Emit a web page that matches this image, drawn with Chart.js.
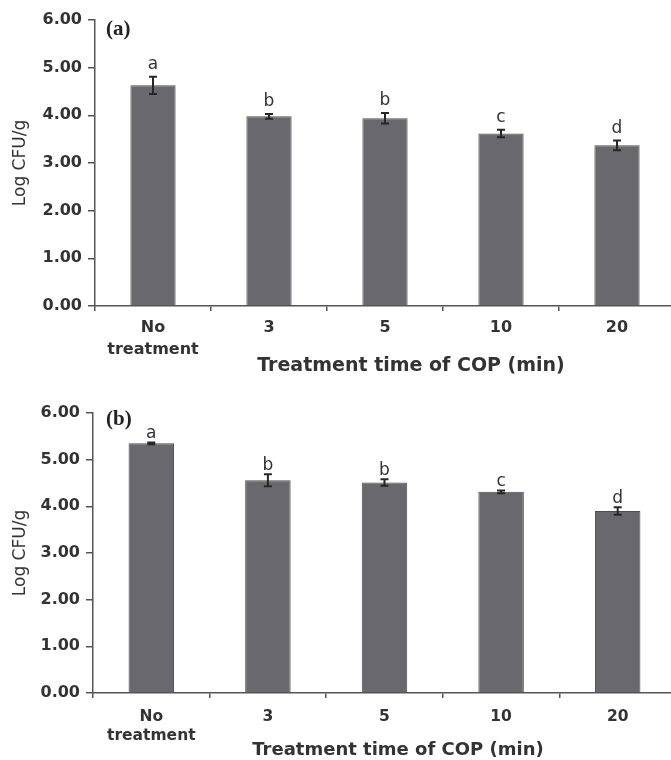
<!DOCTYPE html>
<html>
<head>
<meta charset="utf-8">
<script src="https://cdn.jsdelivr.net/npm/chart.js@4.4.1/dist/chart.umd.min.js"></script>
<style>
  html, body { margin: 0; padding: 0; background: #fff; overflow: hidden; }
  .panel { position: absolute; left: 0; width: 700px; height: 380px; }
</style>
</head>
<body>
<div class="panel" style="top:0"><canvas id="chartA"></canvas></div>
<div class="panel" style="top:380px"><canvas id="chartB"></canvas></div>
<script>
// data (Log CFU/g, mean and +/- error)
const categories = [['No', 'treatment'], '3', '5', '10', '20'];
const yTicks = [0, 1, 2, 3, 4, 5, 6];

const meansA = [4.63, 3.98, 3.94, 3.62, 3.37];
const errorsA = [0.18, 0.05, 0.11, 0.08, 0.10];
const lettersA = ['a', 'b', 'b', 'c', 'd'];

const meansB = [5.35, 4.56, 4.51, 4.31, 3.90];
const errorsB = [0.02, 0.13, 0.07, 0.03, 0.08];
const lettersB = ['a', 'b', 'b', 'c', 'd'];

const FONT = 'DejaVu Sans';
const AXIS = '#555';
const TEXT = '#333';

// error bars, significance letters, panel tag and x-axis title
const extras = {
  id: 'extras',
  afterDatasetsDraw(chart, args, opts) {
    const ctx = chart.ctx;
    const y = chart.scales.y;
    const values = chart.data.datasets[0].data;
    ctx.save();
    chart.getDatasetMeta(0).data.forEach((bar, i) => {
      const top = y.getPixelForValue(values[i] + opts.errors[i]);
      const bot = y.getPixelForValue(values[i] - opts.errors[i]);
      ctx.strokeStyle = '#262626';
      ctx.lineWidth = 2;
      ctx.beginPath();
      ctx.moveTo(bar.x, top); ctx.lineTo(bar.x, bot);
      ctx.moveTo(bar.x - 4, top); ctx.lineTo(bar.x + 4, top);
      ctx.moveTo(bar.x - 4, bot); ctx.lineTo(bar.x + 4, bot);
      ctx.stroke();
      ctx.fillStyle = TEXT;
      ctx.font = '17px "' + FONT + '"';
      ctx.textAlign = 'center';
      ctx.textBaseline = 'alphabetic';
      ctx.fillText(opts.letters[i], bar.x, top - opts.letterGap);
    });
    ctx.fillStyle = '#222';
    ctx.font = 'bold 21px "Liberation Serif"';
    ctx.textAlign = 'left';
    ctx.textBaseline = 'middle';
    ctx.fillText(opts.tag, opts.tagX, opts.tagY);
    ctx.fillStyle = TEXT;
    ctx.font = 'bold ' + opts.titleSize + 'px "' + FONT + '"';
    ctx.textAlign = 'center';
    ctx.fillText('Treatment time of COP (min)', opts.titleX, opts.titleY);
    ctx.restore();
  }
};

function makePanel(id, means, errors, letters, cfg) {
  new Chart(document.getElementById(id), {
    type: 'bar',
    data: {
      labels: categories,
      datasets: [{
        data: means,
        backgroundColor: '#69696d',
        borderColor: '#4e4e51',
        borderWidth: 1,
        barPercentage: 0.39,
        categoryPercentage: 1
      }]
    },
    options: {
      responsive: true,
      maintainAspectRatio: false,
      animation: false,
      layout: { padding: { top: cfg.top, right: cfg.right, left: 0, bottom: 0 } },
      plugins: {
        legend: { display: false },
        tooltip: { enabled: false },
        extras: {
          errors: errors,
          letters: letters,
          letterGap: cfg.letterGap,
          tag: cfg.tag, tagX: 106, tagY: cfg.tagY,
          titleX: cfg.titleX, titleY: cfg.titleY, titleSize: cfg.titleSize
        }
      },
      scales: {
        x: {
          grid: { drawOnChartArea: false, drawTicks: true, tickLength: 5, color: AXIS, lineWidth: 1.5 },
          border: { color: AXIS, width: 1.5 },
          ticks: {
            color: TEXT,
            maxRotation: 0,
            padding: cfg.xPad,
            font: { family: FONT, size: cfg.xFont, weight: 'bold', lineHeight: cfg.xLine }
          },
          afterFit: s => { s.height = cfg.xHeight; }
        },
        y: {
          min: 0,
          max: 6,
          afterBuildTicks: s => { s.ticks = yTicks.map(v => ({ value: v })); },
          grid: { drawOnChartArea: false, drawTicks: true, tickLength: 7, color: AXIS, lineWidth: 1.5 },
          border: { color: AXIS, width: 1.5 },
          ticks: {
            color: TEXT,
            padding: 6,
            callback: v => v.toFixed(2),
            font: { family: FONT, size: 16, weight: 'bold' }
          },
          title: {
            display: true,
            text: 'Log CFU/g',
            color: TEXT,
            font: { family: FONT, size: 17 },
            padding: { top: 10, bottom: 0 }
          },
          afterFit: s => { s.width = cfg.yWidth; }
        }
      }
    },
    plugins: [extras]
  });
}

makePanel('chartA', meansA, errorsA, lettersA, {
  top: 20, right: 25, xHeight: 74, yWidth: 95,
  xFont: 16, xLine: 1.375, xPad: 6,
  letterGap: 8, tag: '(a)', tagY: 30,
  titleX: 411, titleY: 366, titleSize: 19
});

makePanel('chartB', meansB, errorsB, lettersB, {
  top: 33, right: 24, xHeight: 67, yWidth: 93,
  xFont: 15.5, xLine: 1.23, xPad: 9,
  letterGap: 4, tag: '(b)', tagY: 40,
  titleX: 398, titleY: 370, titleSize: 18
});
</script>
</body>
</html>
